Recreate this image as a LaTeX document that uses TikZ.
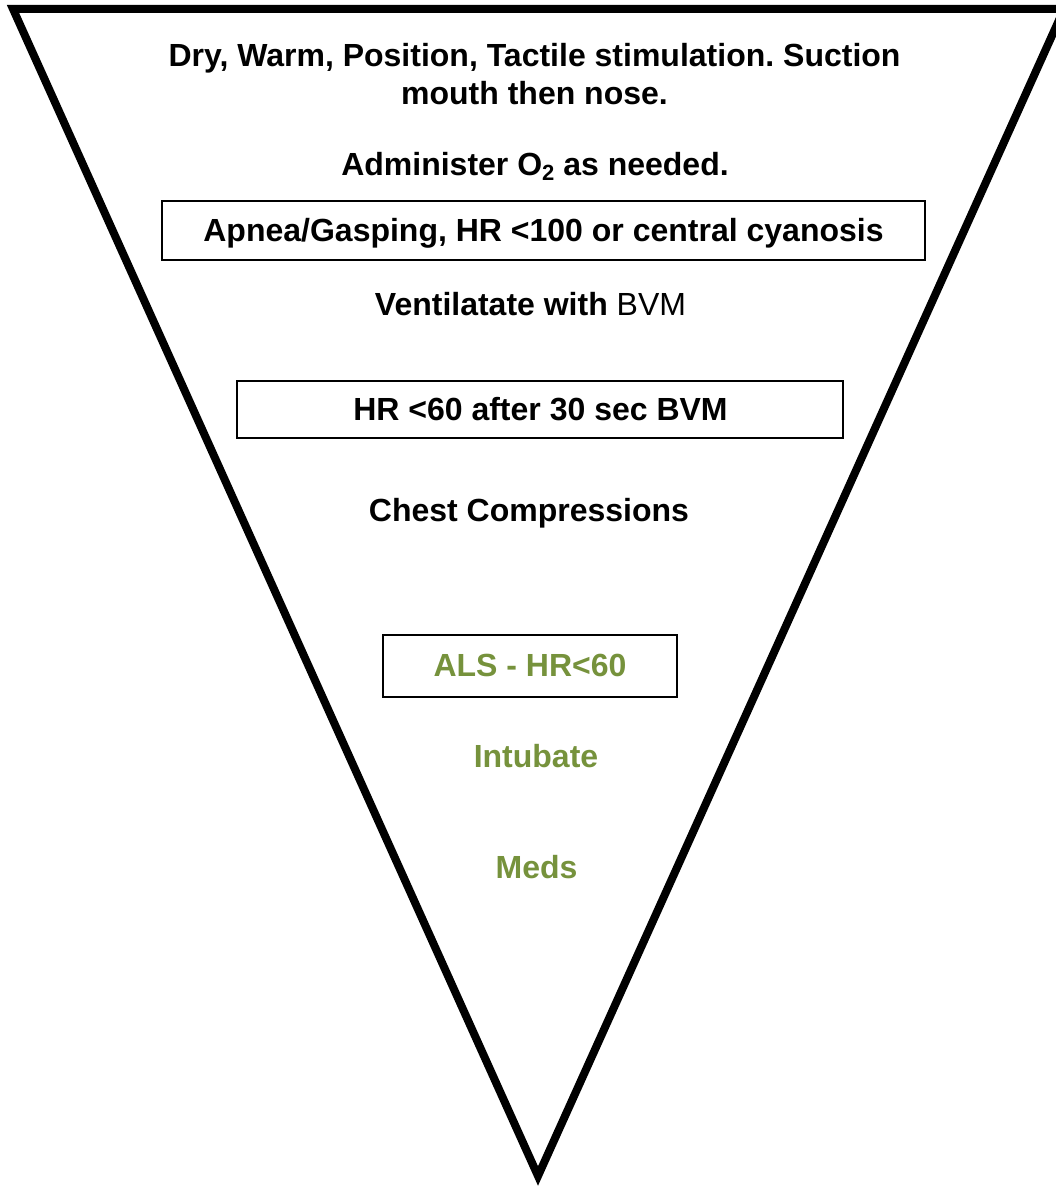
\documentclass[tikz,border=0pt]{standalone}
\usepackage{fontspec}
\setmainfont{Liberation Sans}
\frenchspacing
\definecolor{olive}{RGB}{118,146,60}
\begin{document}
\begin{tikzpicture}[x=1pt,y=-1pt,
  txt/.style={anchor=base,inner sep=0pt,font=\fontsize{32}{38}\selectfont\bfseries},
  gtxt/.style={txt,text=olive},
  frame/.style={draw=black,line width=2pt}]
\useasboundingbox (0,0) rectangle (1055,1188);
% funnel
\coordinate (tl) at (13,9);
\coordinate (tr) at (1064,9);
\coordinate (ap) at (538,1176);
\draw[line width=8pt,line join=miter] (tl) -- (tr) -- (ap) -- cycle;
% boxes
\node[frame,minimum width=763pt,minimum height=59pt,inner sep=0pt] (b1) at (543.5,230.5) {};
\node[frame,minimum width=606pt,minimum height=57pt,inner sep=0pt] (b2) at (540,409.5) {};
\node[frame,minimum width=294pt,minimum height=62pt,inner sep=0pt] (b3) at (530,666) {};
% texts
\node[txt] (t1) at (534.5,67) {Dry, Warm, Position, Tactile stimulation. Suction};
\node[txt] (t2) at (534.5,105) {mouth then nose.};
\node[txt] (t3) at (535,175) {Administer O\raisebox{-0.18em}{\fontsize{22}{22}\selectfont 2} as needed.};
\node[txt] (t4) at (543.5,241) {Apnea/Gasping, HR {<}100 or central cyanosis};
\node[txt] (t5) at (530.5,315) {Ventilatate with \mdseries BVM};
\node[txt] (t6) at (540.5,420) {HR {<}60 after 30 sec BVM};
\node[txt] (t7) at (529,521) {Chest Compressions};
\node[gtxt] (t8) at (530,676) {ALS - HR{<}60};
\node[gtxt] (t9) at (536,767) {Intubate};
\node[gtxt] (t10) at (536.5,878) {Meds};
\end{tikzpicture}
\end{document}
